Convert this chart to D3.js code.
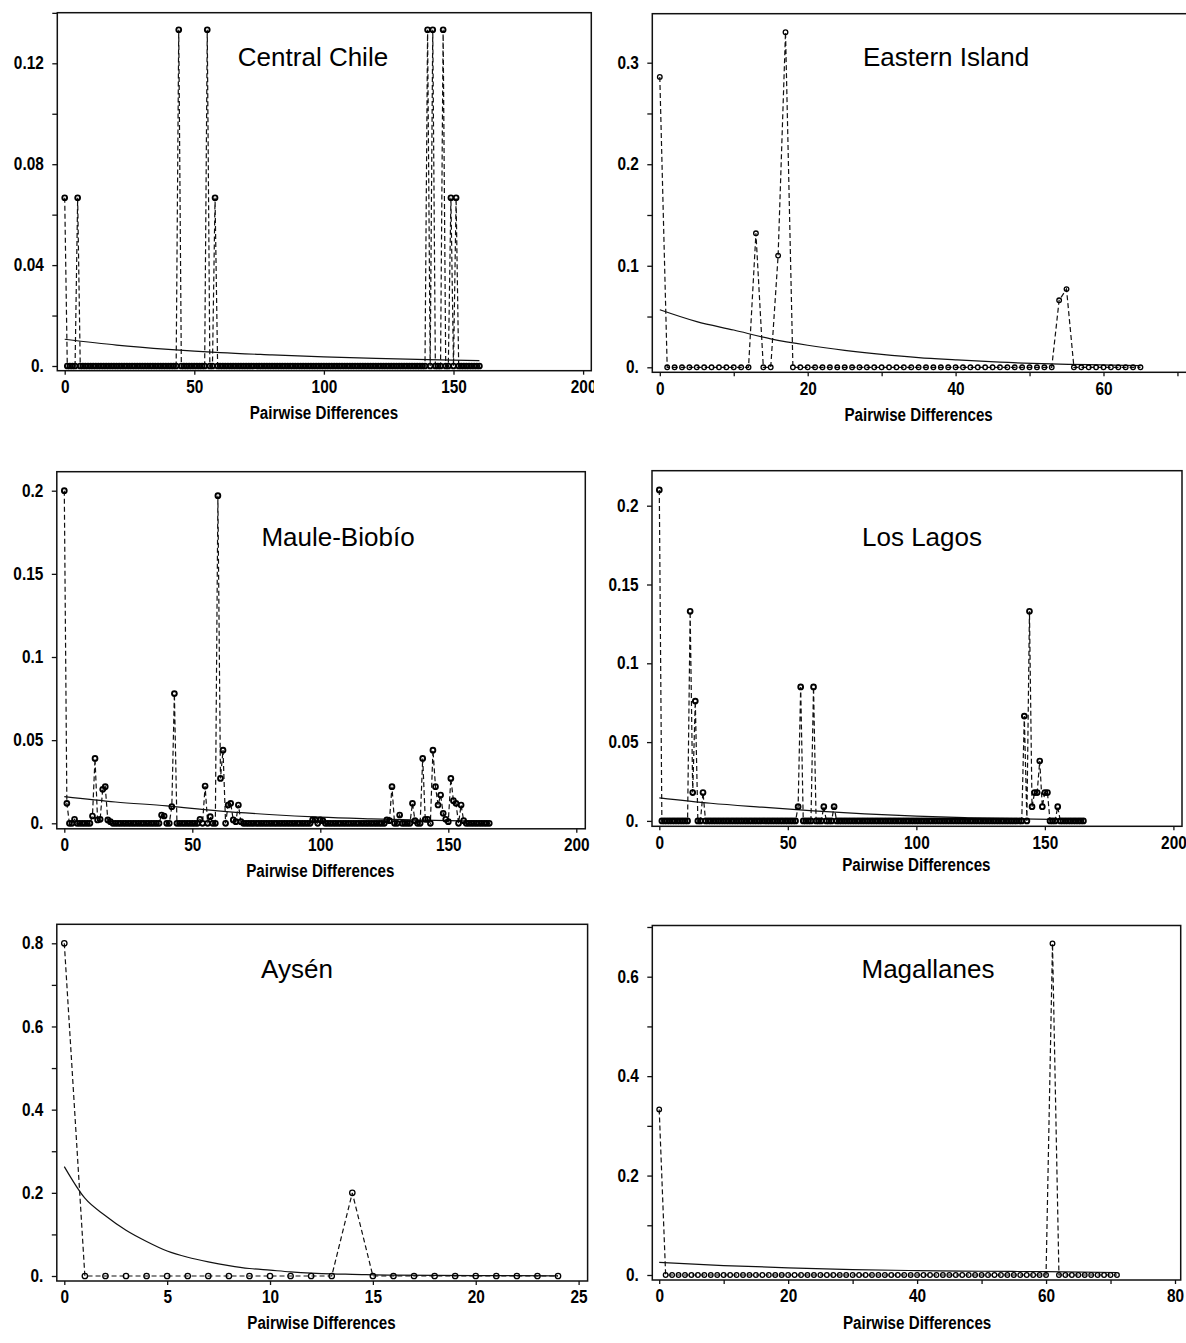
<!DOCTYPE html>
<html lang="en">
<head>
    <meta charset="UTF-8">
    <title>Mismatch distributions</title>
    <script src="https://d3js.org/d3.v7.min.js"></script>
    <style>
        body{
            margin: 0;
            background: #ffffff;
        }
        .tick text{
            font-family: "Liberation Sans", Arial, sans-serif;
            font-weight: bold;
            font-size: 17.5px;
            fill: #000;
        }
        .xtitle{
            font-family: "Liberation Sans", Arial, sans-serif;
            font-weight: bold;
            font-size: 18.5px;
        }
        .ptitle{
            font-family: "Liberation Sans", Arial, sans-serif;
            font-size: 26px;
        }
    </style>
</head>
<body>
    <script>

        // observed = [pairwise difference, frequency] (only the non zero ones, the rest are 0 up to *Max)
        // expected = points read off the solid curve

        // Central Chile
        const centralObs = [[0,0.0667],[5,0.0667],[44,0.1333],[55,0.1333],[58,0.0667],[140,0.1333],[142,0.1333],[146,0.1333],[149,0.0667],[151,0.0667]]
        const centralMax = 160
        const centralExp = [[0,0.0106],[20,0.0083],[40,0.0066],[60,0.0053],[80,0.0044],[100,0.0036],[120,0.003],[140,0.0025],[160,0.0021]]

        // Eastern Island
        const easterObs = [[0,0.286],[13,0.132],[16,0.11],[17,0.33],[54,0.066],[55,0.077]]
        const easterMax = 65
        const easterExp = [[0,0.0567],[5,0.045],[10,0.0367],[15,0.028],[20,0.0217],[25,0.0167],[30,0.0127],[35,0.0095],[40,0.0073],[46,0.005],[53,0.0033],[65,0.0017]]

        // Maule-Biobio
        const mauleObs = [[0,0.2],[1,0.012],[4,0.0024],[11,0.0044],[12,0.039],[13,0.002],[14,0.0024],[15,0.0204],[16,0.022],[17,0.002],[18,0.001],
                          [38,0.005],[39,0.0044],[42,0.01],[43,0.078],[53,0.0024],[55,0.0224],[57,0.004],[60,0.197],[61,0.027],[62,0.044],
                          [64,0.011],[65,0.012],[66,0.002],[67,0.001],[68,0.011],[69,0.001],[97,0.002],[98,0.002],[100,0.002],[101,0.0016],
                          [126,0.002],[127,0.0016],[128,0.022],[131,0.005],[136,0.012],[137,0.0016],[140,0.039],[141,0.0024],[142,0.0024],
                          [144,0.044],[145,0.022],[146,0.011],[147,0.017],[148,0.006],[149,0.0024],[150,0.001],[151,0.027],[152,0.0136],
                          [153,0.012],[155,0.011],[156,0.0016]]
        const mauleMax = 166
        const mauleExp = [[0,0.016],[20,0.0128],[40,0.0105],[60,0.0075],[80,0.0053],[100,0.0037],[120,0.0027],[140,0.0019],[166,0.0012]]

        // Los Lagos
        const lagosObs = [[0,0.21],[12,0.133],[13,0.018],[14,0.076],[17,0.018],[54,0.009],[55,0.085],[60,0.085],[64,0.009],[68,0.009],
                          [142,0.0665],[144,0.133],[145,0.009],[146,0.018],[147,0.018],[148,0.038],[149,0.009],[150,0.018],[151,0.018],[155,0.009]]
        const lagosMax = 165
        const lagosExp = [[0,0.0146],[20,0.0112],[40,0.0087],[60,0.0064],[80,0.0045],[100,0.003],[120,0.002],[140,0.0013],[165,0.0007]]

        // Aysen
        const aysenObs = [[0,0.8],[14,0.2]]
        const aysenMax = 24
        const aysenExp = [[0,0.263],[1,0.187],[2,0.145],[3,0.11],[4,0.083],[5,0.06],[6,0.045],[7,0.034],[8,0.025],[9,0.018],[10,0.014],
                          [11,0.01],[12,0.007],[13,0.005],[14,0.004],[16,0.002],[20,0.001],[24,0.0005]]

        // Magallanes
        const magObs = [[0,0.333],[61,0.667]]
        const magMax = 71
        const magExp = [[0,0.0255],[10,0.019],[20,0.0145],[30,0.011],[40,0.0088],[50,0.0075],[60,0.0067],[71,0.005]]

        // ticks (all tick marks, then the ones that get a label)
        const centralYTicks = [0,0.02,0.04,0.06,0.08,0.1,0.12,0.14], centralYLabels = [0,0.04,0.08,0.12]
        const centralXTicks = [0,50,100,150,200], centralXLabels = [0,50,100,150,200]
        const easterYTicks = [0,0.05,0.1,0.15,0.2,0.25,0.3], easterYLabels = [0,0.1,0.2,0.3]
        const easterXTicks = [0,10,20,30,40,50,60,70], easterXLabels = [0,20,40,60]
        const mauleYTicks = [0,0.05,0.1,0.15,0.2], mauleYLabels = [0,0.05,0.1,0.15,0.2]
        const mauleXTicks = [0,50,100,150,200], mauleXLabels = [0,50,100,150,200]
        const lagosYTicks = [0,0.05,0.1,0.15,0.2], lagosYLabels = [0,0.05,0.1,0.15,0.2]
        const lagosXTicks = [0,50,100,150,200], lagosXLabels = [0,50,100,150,200]
        const aysenYTicks = [0,0.1,0.2,0.3,0.4,0.5,0.6,0.7,0.8], aysenYLabels = [0,0.2,0.4,0.6,0.8]
        const aysenXTicks = [0,5,10,15,20,25], aysenXLabels = [0,5,10,15,20,25]
        const magYTicks = [0,0.1,0.2,0.3,0.4,0.5,0.6,0.7], magYLabels = [0,0.2,0.4,0.6]
        const magXTicks = [0,10,20,30,40,50,60,70,80], magXLabels = [0,20,40,60,80]

        const names = ["Central Chile","Eastern Island","Maule-Biobío","Los Lagos","Aysén","Magallanes"]

        // layout: frame box [left,top,right,bottom], pixel range for the x/y scales, title spot,
        // bg = the white sheet each plot sits on (right column covers the spill of the left one)
        // r / sw = marker radius and stroke, the crowded plots print their markers heavier
        const panels = [
            {name:names[0], obs:centralObs, max:centralMax, exp:centralExp, yT:centralYTicks, yL:centralYLabels, xT:centralXTicks, xL:centralXLabels,
             frame:[57.3,12.7,591.3,370.7], xr:[64.7,583.1], yr:[366,63.3], yRef:0.12, title:[313,66], tOff:48, r:2.4, sw:1.9},
            {name:names[1], obs:easterObs, max:easterMax, exp:easterExp, yT:easterYTicks, yL:easterYLabels, xT:easterXTicks, xL:easterXLabels,
             frame:[652.3,13.7,1190,372.3], xr:[659.8,1103.5], xEnd:60, yr:[367.3,62.7], yRef:0.3, title:[946,66], tOff:48.5, bg:[594,0,600,445], r:2.3, sw:1.3},
            {name:names[2], obs:mauleObs, max:mauleMax, exp:mauleExp, yT:mauleYTicks, yL:mauleYLabels, xT:mauleXTicks, xL:mauleXLabels,
             frame:[56.8,471.7,585.3,828.8], xr:[64.3,576.3], yr:[823.3,490.7], yRef:0.2, title:[338,546], tOff:48, r:2.4, sw:1.9},
            {name:names[3], obs:lagosObs, max:lagosMax, exp:lagosExp, yT:lagosYTicks, yL:lagosYLabels, xT:lagosXTicks, xL:lagosXLabels,
             frame:[652,470.7,1182,826.3], xr:[659.3,1173.4], yr:[820.9,505.7], yRef:0.2, title:[922,546], tOff:45, bg:[594,450,600,445], r:2.4, sw:1.9},
            {name:names[4], obs:aysenObs, max:aysenMax, exp:aysenExp, yT:aysenYTicks, yL:aysenYLabels, xT:aysenXTicks, xL:aysenXLabels,
             frame:[56.8,924.3,587.6,1281], xr:[64.3,578.6], yr:[1276,943.3], yRef:0.8, title:[297,978], tOff:48, r:2.7, sw:1.3},
            {name:names[5], obs:magObs, max:magMax, exp:magExp, yT:magYTicks, yL:magYLabels, xT:magXTicks, xL:magXLabels,
             frame:[652.3,925.5,1180.7,1280], xr:[659.2,1175], yr:[1275,976.7], yRef:0.6, title:[928,978], tOff:48.5, bg:[594,900,600,443], r:2.3, sw:1.3}
        ]

        const fmtY = d => d === 0 ? "0." : String(d)
        const tickSx = 0.88    // squeeze to get the narrow bold look of the original
        const titleSx = 0.82

        const svg = d3.select("body")
                        .append("svg")
                        .attr("width",1186)
                        .attr("height",1343)

        function drawPanel(p){
            const xEnd = p.xEnd !== undefined ? p.xEnd : d3.max(p.xT)
            const x = d3.scaleLinear().domain([0,xEnd]).range(p.xr)
            const y = d3.scaleLinear().domain([0,p.yRef]).range(p.yr)
            const [fl,ft,fr,fb] = p.frame

            const g = svg.append("g")

            if(p.bg){
                g.append("rect")
                    .attr("x",p.bg[0]).attr("y",p.bg[1])
                    .attr("width",p.bg[2]).attr("height",p.bg[3])
                    .attr("fill","#fff")
            }

            g.append("rect")
                .attr("x",fl).attr("y",ft)
                .attr("width",fr-fl).attr("height",fb-ft)
                .attr("fill","none")
                .attr("stroke","#111")
                .attr("stroke-width",1.5)

            // axes, the frame already acts as the domain line
            const yAxis = d3.axisLeft(y).tickValues(p.yT).tickSize(5).tickPadding(8.5)
                            .tickFormat(d => p.yL.includes(d) ? fmtY(d) : "")
            const xAxis = d3.axisBottom(x).tickValues(p.xT).tickSize(4).tickPadding(6)
                            .tickFormat(d => p.xL.includes(d) ? String(d) : "")

            const ya = g.append("g").attr("transform",`translate(${fl},0)`).call(yAxis)
            const xa = g.append("g").attr("transform",`translate(0,${fb})`).call(xAxis)
            ya.select(".domain").remove()
            xa.select(".domain").remove()
            ya.attr("font-family",null).attr("font-size",null)
            xa.attr("font-family",null).attr("font-size",null)
            g.selectAll(".tick line").attr("stroke","#111").attr("stroke-width",1.3)

            ya.selectAll(".tick text")
                .attr("x",-13.5/tickSx)
                .attr("transform",`scale(${tickSx},1)`)
            xa.selectAll(".tick text")
                .attr("transform",`scale(${tickSx},1)`)

            // observed series, zeros everywhere that has no peak
            const lookup = new Map(p.obs)
            const obs = d3.range(0,p.max+1).map(k => [k, lookup.get(k) || 0])

            const expLine = d3.line().x(d=>x(d[0])).y(d=>y(d[1])).curve(d3.curveMonotoneX)
            const obsLine = d3.line().x(d=>x(d[0])).y(d=>y(d[1]))

            g.append("path")
                .attr("d",expLine(p.exp))
                .attr("fill","none")
                .attr("stroke","#111")
                .attr("stroke-width",1.2)

            g.append("path")
                .attr("d",obsLine(obs))
                .attr("fill","none")
                .attr("stroke","#111")
                .attr("stroke-width",1.2)
                .attr("stroke-dasharray","5,3")

            g.selectAll(".pt")
                .data(obs)
                .enter()
                .append("circle")
                .attr("cx",d=>x(d[0]))
                .attr("cy",d=>y(d[1]))
                .attr("r",p.r)
                .attr("fill","none")
                .attr("stroke","#000")
                .attr("stroke-width",p.sw)

            g.append("text")
                .attr("class","xtitle")
                .attr("transform",`translate(${(x(0)+x(d3.max(p.xT)))/2},${fb+p.tOff}) scale(${titleSx},1)`)
                .attr("text-anchor","middle")
                .text("Pairwise Differences")

            g.append("text")
                .attr("class","ptitle")
                .attr("x",p.title[0])
                .attr("y",p.title[1])
                .attr("text-anchor","middle")
                .text(p.name)
        }

        panels.forEach(p => drawPanel(p))

    </script>
</body>
</html>
